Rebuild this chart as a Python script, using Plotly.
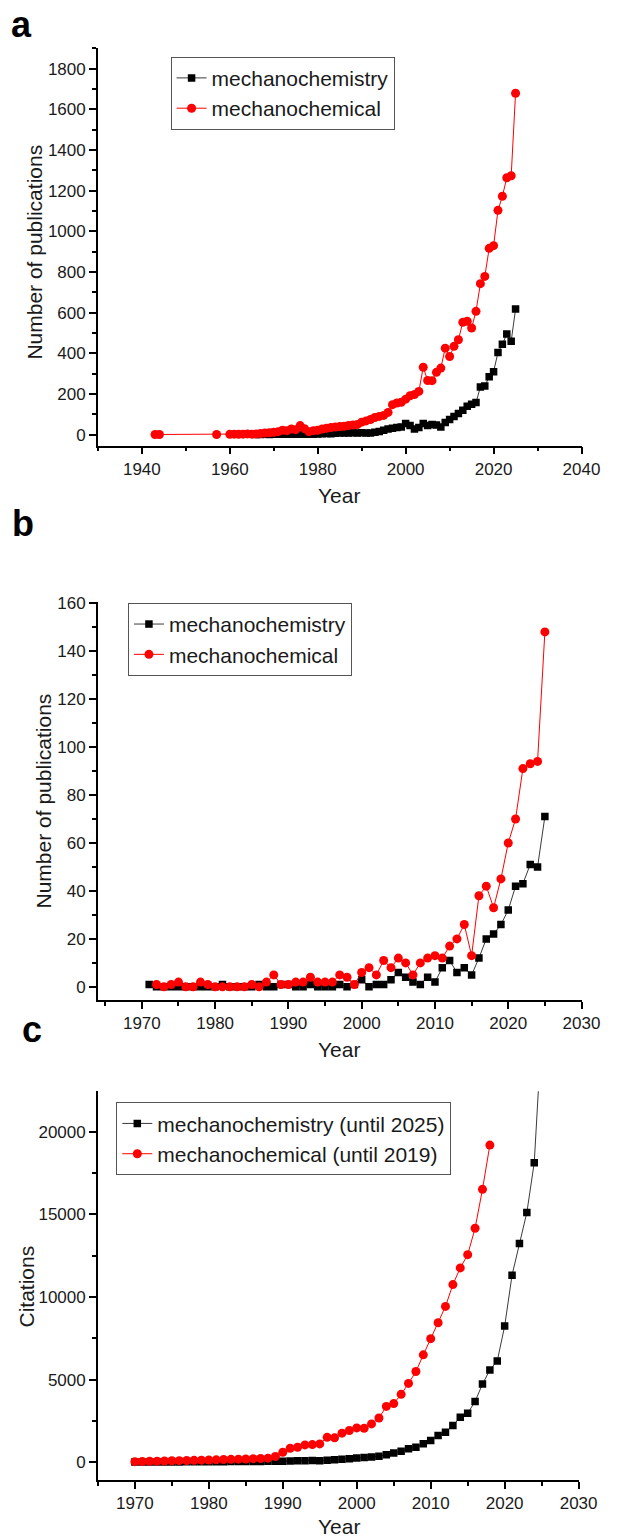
import plotly.graph_objects as go

W, H = 617, 1539

# ---------------- data ----------------
# Panel a: number of publications (all years)
a_chemistry_years = list(range(1966, 2026))
a_chemistry = [1, 1, 2, 1, 2, 2, 3, 2, 3, 2,
               3, 2, 3, 3, 4, 5, 6, 5, 7, 8,
               9, 8, 10, 9, 10, 9, 8, 12, 16, 22,
               28, 32, 35, 38, 55, 45, 28, 35, 55, 45,
               50, 48, 38, 60, 75, 90, 105, 120, 140, 150,
               158, 235, 240, 285, 310, 405, 445, 495, 460, 618]
a_chemical_years = [1943, 1944, 1957] + list(range(1960, 2026))
a_chemical = [1, 1, 1,
              2, 3, 2, 3, 4, 3, 4, 6, 8, 10,
              12, 15, 22, 20, 28, 25, 45, 30, 15, 20,
              22, 28, 32, 35, 38, 40, 42, 45, 48, 50,
              62, 68, 75, 85, 90, 95, 110, 148, 156, 160,
              175, 192, 198, 213, 332, 267, 266, 307, 328, 426,
              385, 435, 467, 553, 558, 525, 607, 743, 779, 917,
              930, 1104, 1173, 1264, 1274, 1680]

# Panel b
b_chemistry_years = list(range(1971, 2026))
b_chemistry = [1, 0, 0, 0, 0, 0, 0, 0, 0, 0,
               1, 0, 0, 0, 0, 1, 0, 0, 1, 1,
               0, 0, 1, 0, 0, 0, 1, 0, 1, 3,
               0, 1, 1, 3, 6, 4, 2, 1, 4, 2,
               8, 11, 6, 8, 5, 12, 20, 22, 26, 32,
               42, 43, 51, 50, 71]
b_chemical_years = list(range(1972, 2026))
b_chemical = [1, 0, 1, 2, 0, 0, 2, 1, 0, 0,
              0, 0, 0, 1, 0, 2, 5, 1, 1, 2,
              2, 4, 2, 2, 2, 5, 4, 1, 6, 8,
              5, 11, 8, 12, 10, 5, 10, 12, 13, 12,
              17, 20, 26, 13, 38, 42, 33, 45, 60, 70,
              91, 93, 94, 148]

# Panel c: citations
c_chemistry_years = list(range(1970, 2026))
c_chemistry = [20, 25, 25, 30, 30, 35, 35, 40, 40, 45,
               45, 50, 50, 55, 55, 60, 60, 65, 70, 75,
               80, 90, 100, 110, 120, 110, 130, 160, 190, 230,
               270, 300, 330, 380, 460, 565, 685, 825, 920, 1125,
               1330, 1630, 1830, 2230, 2730, 2970, 3690, 4740, 5600, 6140,
               8250, 11330, 13250, 15120, 18130, 26000]
c_chemical_years = list(range(1970, 2019))
c_chemical = [50, 60, 70, 80, 90, 100, 110, 120, 130, 140,
              150, 160, 180, 190, 200, 210, 230, 240, 260, 360,
              620, 860, 920, 1060, 1080, 1120, 1520, 1490, 1770, 1930,
              2090, 2070, 2330, 2690, 3390, 3560, 4120, 4780, 5500, 6510,
              7490, 8450, 9440, 10760, 11770, 12570, 14170, 16520, 19200]

# ---------------- style ----------------
FONT = "Liberation Sans, Arial, sans-serif"
BLACK_LINE = "#3a3a3a"
RED = "#ff0000"
TXT = "#1a1a1a"


def px_x(x):
    return x / W


def px_y(y):
    return 1 - y / H


fig = go.Figure()


def add_pair(xa, ya, xs1, ys1, name1, xs2, ys2, name2, legend):
    fig.add_trace(go.Scatter(
        x=xs1, y=ys1, name=name1, mode="lines+markers",
        line=dict(color=BLACK_LINE, width=1),
        marker=dict(symbol="square", size=7.5, color="black"),
        xaxis=xa, yaxis=ya, legend=legend))
    fig.add_trace(go.Scatter(
        x=xs2, y=ys2, name=name2, mode="lines+markers",
        line=dict(color=RED, width=1),
        marker=dict(symbol="circle", size=9, color=RED),
        xaxis=xa, yaxis=ya, legend=legend))


add_pair("x", "y", a_chemistry_years, a_chemistry, "mechanochemistry",
         a_chemical_years, a_chemical, "mechanochemical", "legend")
add_pair("x2", "y2", b_chemistry_years, b_chemistry, "mechanochemistry",
         b_chemical_years, b_chemical, "mechanochemical", "legend2")
add_pair("x3", "y3", c_chemistry_years, c_chemistry, "mechanochemistry (until 2025)",
         c_chemical_years, c_chemical, "mechanochemical (until 2019)", "legend3")


def axis(rng, dom, dtick, mdtick, anchor, tick0=0):
    return dict(
        range=rng, domain=dom, anchor=anchor,
        showline=True, linecolor="black", linewidth=1.5,
        ticks="outside", ticklen=7, tickwidth=1.5, tickcolor="black",
        tick0=tick0, dtick=dtick, tickformat="d",
        minor=dict(ticks="outside", ticklen=4, tickwidth=1.5, tickcolor="black",
                   dtick=mdtick, tick0=tick0, showgrid=False),
        showgrid=False, zeroline=False, mirror=False,
        tickfont=dict(family=FONT, size=17, color=TXT),
        fixedrange=True,
    )


XD_AB = [px_x(101), px_x(600)]
XD_C = [px_x(101), px_x(597)]
fig.update_layout(
    xaxis=axis([1930, 2040], XD_AB, 20, 10, "y", tick0=1940),
    yaxis=axis([-54, 1900], [px_y(440), px_y(40.7)], 200, 100, "x"),
    xaxis2=axis([1964, 2030], XD_AB, 10, 5, "y2", tick0=1970),
    yaxis2=axis([-5.4, 160.5], [px_y(997), px_y(597)], 20, 10, "x2"),
    xaxis3=axis([1965, 2030], XD_C, 10, 5, "y3", tick0=1970),
    yaxis3=axis([-1080, 22450], [px_y(1480), px_y(1089)], 5000, 2500, "x3"),
)

leg_common = dict(
    bgcolor="rgba(255,255,255,1)", bordercolor="#555555", borderwidth=1,
    font=dict(family=FONT, size=21, color=TXT),
    xanchor="left", yanchor="top", tracegroupgap=0, itemclick=False,
)
fig.update_layout(
    legend=dict(x=px_x(176), y=px_y(49), **leg_common),
    legend2=dict(x=px_x(132), y=px_y(598), **leg_common),
    legend3=dict(x=px_x(120), y=px_y(1100), **leg_common),
)

ann = []
# panel letters
for txt, x, y in [("a", 22, 17), ("b", 24, 518), ("c", 33, 1027)]:
    ann.append(dict(text="<b>%s</b>" % txt, x=px_x(x), y=px_y(y), xref="paper", yref="paper",
                    showarrow=False, xanchor="center", yanchor="middle",
                    font=dict(family=FONT, size=36, color="black")))
# y titles
for txt, x, y in [("Number of publications", 36, 245), ("Number of publications", 45, 797),
                  ("Citations", 27, 1285)]:
    ann.append(dict(text=txt, x=px_x(x), y=px_y(y), xref="paper", yref="paper",
                    showarrow=False, xanchor="center", yanchor="middle", textangle=-90,
                    font=dict(family=FONT, size=21, color=TXT)))
# x titles
for y in [490, 1047, 1526]:
    ann.append(dict(text="Year", x=px_x(350), y=px_y(y), xref="paper", yref="paper",
                    showarrow=False, xanchor="center", yanchor="middle",
                    font=dict(family=FONT, size=21, color=TXT)))

fig.update_layout(
    width=W, height=H, margin=dict(l=0, r=0, t=0, b=0),
    paper_bgcolor="white", plot_bgcolor="white",
    font=dict(family=FONT),
    annotations=ann, showlegend=True,
)

fig.write_html("out.html")
